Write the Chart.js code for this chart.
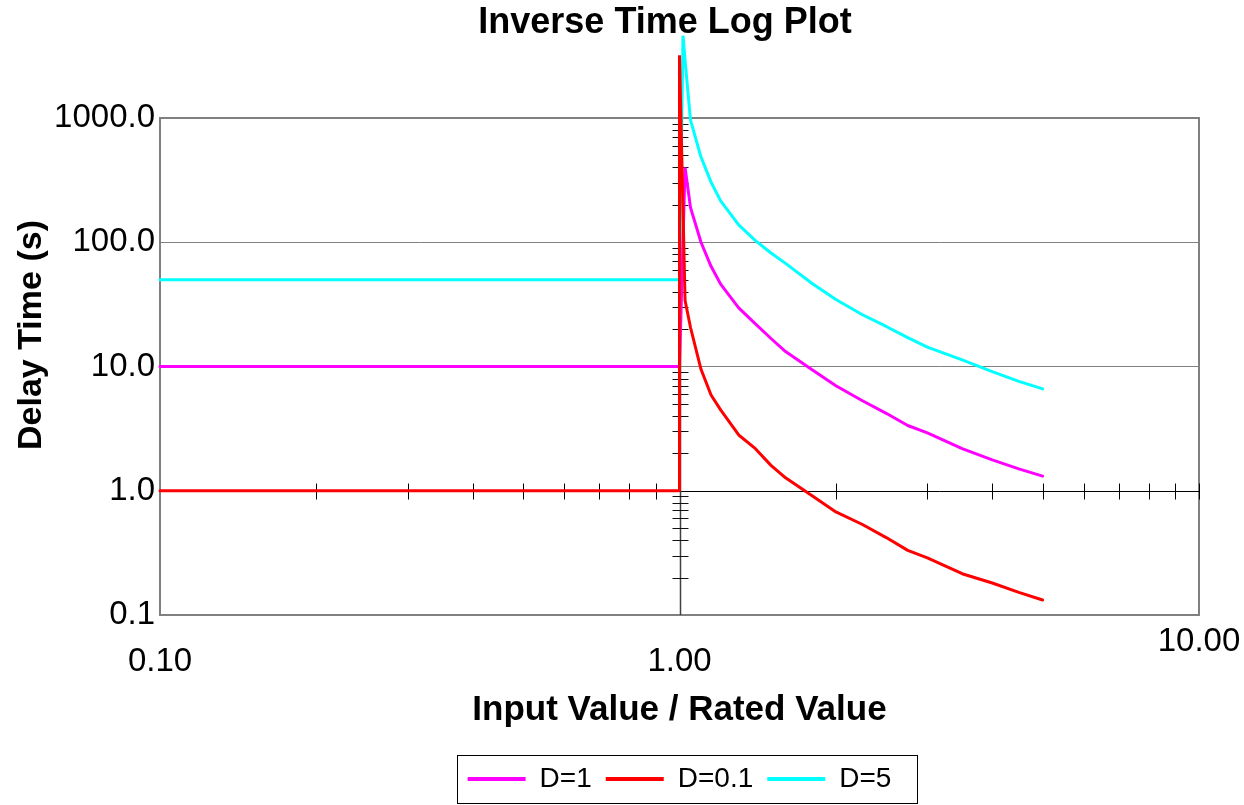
<!DOCTYPE html>
<html>
<head>
<meta charset="utf-8">
<title>Inverse Time Log Plot</title>
<script src="https://cdn.jsdelivr.net/npm/chart.js@4.4.1/dist/chart.umd.min.js"></script>
<style>
  body { margin: 0; background: #fff; }
  canvas { display: block; }
</style>
</head>
<body>
<canvas id="curveChart" width="1244" height="805"></canvas>
<script>
// input / rated value where the curves are sampled after pickup
const xCurve = [1.025, 1.05, 1.1, 1.15, 1.2, 1.3, 1.4, 1.5, 1.6, 1.8, 2.0, 2.25, 2.5, 2.75, 3.0, 3.5, 4.0, 4.5, 5.0];
const xFlat = [0.1, 1.0];

// delay time below pickup (flat level) for each curve
const levelD1 = 10;
const levelD01 = 1;
const levelD5 = 50;

// first point right at pickup (x, y)
const peakD01 = [1.0, 3200];
const peakD5 = [1.0156, 4600];

// delay times (s) along xCurve
const timeD1 = [400, 190, 100, 64, 46, 29.6, 22, 16.8, 13.2, 9.4, 7.0, 5.3, 4.2, 3.35, 2.92, 2.18, 1.77, 1.5, 1.31];
const timeD01 = [34, 20.6, 9.5, 5.9, 4.48, 2.81, 2.18, 1.6, 1.27, 0.91, 0.675, 0.535, 0.42, 0.331, 0.288, 0.215, 0.181, 0.152, 0.132];
const timeD5 = [2900, 960, 485, 305, 215, 138, 103, 82, 67.6, 46.6, 34.6, 26.1, 21.0, 17.1, 14.3, 11.3, 9.1, 7.6, 6.6];

const seriesLabels = ['D=1', 'D=0.1', 'D=5'];
const seriesColors = ['#ff00ff', '#ff0000', '#00ffff'];

const xTicks = [0.1, 1, 10];
const yTicks = [0.1, 1, 10, 100, 1000];

const FONT = '"Liberation Sans", Arial, Helvetica, sans-serif';

// minor tick positions for the axes that cross at (1, 1)
function minorTicks(fromExp, toExp) {
  const out = [];
  for (let e = fromExp; e < toExp; e++) {
    for (let m = 2; m <= 9; m++) out.push(m * Math.pow(10, e));
  }
  return out;
}
const minorX = minorTicks(-1, 1).concat([10]);
const minorY = minorTicks(-1, 3);

function buildPoints(level, peak, times) {
  const pts = xFlat.map(x => ({ x: x, y: level }));
  if (peak) pts.push({ x: peak[0], y: peak[1] });
  xCurve.forEach((x, i) => pts.push({ x: x, y: times[i] }));
  return pts;
}

const crossAxes = {
  id: 'crossAxes',
  beforeDatasetsDraw(chart) {
    const { ctx, chartArea: a, scales: { x, y } } = chart;
    const x1 = Math.round(x.getPixelForValue(1)) + 0.5;
    const y1 = Math.round(y.getPixelForValue(1)) + 0.5;
    ctx.save();

    // plot frame
    ctx.strokeStyle = '#808080';
    ctx.lineWidth = 2;
    ctx.strokeRect(a.left, a.top, a.right - a.left, a.bottom - a.top);

    // horizontal axis through y = 1
    ctx.strokeStyle = '#000';
    ctx.lineWidth = 1;
    ctx.beginPath();
    ctx.moveTo(a.left, y1);
    ctx.lineTo(a.right, y1);
    minorX.forEach(v => {
      const px = Math.round(x.getPixelForValue(v)) + 0.5;
      ctx.moveTo(px, y1 - 8);
      ctx.lineTo(px, y1 + 8);
    });
    ctx.stroke();

    // vertical axis through x = 1
    ctx.strokeStyle = '#404040';
    ctx.lineWidth = 1.5;
    ctx.beginPath();
    ctx.moveTo(x1, a.top);
    ctx.lineTo(x1, a.bottom);
    ctx.stroke();
    ctx.strokeStyle = '#111';
    ctx.lineWidth = 1;
    ctx.beginPath();
    minorY.forEach(v => {
      const py = Math.round(y.getPixelForValue(v)) + 0.5;
      ctx.moveTo(x1 - 8, py);
      ctx.lineTo(x1 + 8, py);
    });
    ctx.stroke();

    // chart title and y axis title
    ctx.fillStyle = '#000';
    ctx.textAlign = 'center';
    ctx.textBaseline = 'middle';
    ctx.font = 'bold 36px ' + FONT;
    ctx.fillText('Inverse Time Log Plot', 665, 23);
    ctx.translate(32, 335);
    ctx.rotate(-Math.PI / 2);
    ctx.font = 'bold 34px ' + FONT;
    ctx.fillText('Delay Time (s)', 0, 0);
    ctx.restore();
  }
};

const legendFrame = {
  id: 'legendFrame',
  afterDraw(chart) {
    const boxes = chart.legend.legendHitBoxes;
    if (!boxes.length) return;
    const first = boxes[0];
    const last = boxes[boxes.length - 1];
    const ctx = chart.ctx;
    ctx.save();
    ctx.strokeStyle = '#000';
    ctx.lineWidth = 1;
    const left = Math.round(first.left - 11) + 0.5;
    const right = Math.round(last.left + last.width + 26) + 0.5;
    const top = Math.round(first.top - 10) + 0.5;
    const bottom = Math.round(first.top + first.height + 10) + 0.5;
    ctx.strokeRect(left, top, right - left, bottom - top);
    ctx.restore();
  }
};

const datasets = [
  { label: seriesLabels[0], data: buildPoints(levelD1, null, timeD1), borderColor: seriesColors[0], order: 1 },
  { label: seriesLabels[1], data: buildPoints(levelD01, peakD01, timeD01), borderColor: seriesColors[1], order: 0 },
  { label: seriesLabels[2], data: buildPoints(levelD5, peakD5, timeD5), borderColor: seriesColors[2], order: 2 }
].map(ds => Object.assign(ds, {
  backgroundColor: ds.borderColor,
  showLine: true,
  borderWidth: 3,
  pointRadius: 0,
  pointHoverRadius: 0,
  tension: 0,
  fill: false,
  clip: false,
  borderJoinStyle: 'bevel',
  borderCapStyle: 'round'
}));

new Chart(document.getElementById('curveChart'), {
  type: 'scatter',
  data: { datasets: datasets },
  plugins: [crossAxes, legendFrame],
  options: {
    responsive: false,
    animation: false,
    devicePixelRatio: 1,
    layout: { padding: { top: 118, right: 45, bottom: 2, left: 0 } },
    plugins: {
      title: { display: false },
      tooltip: { enabled: false },
      legend: {
        position: 'bottom',
        fullSize: false,
        labels: {
          color: '#000',
          font: { family: FONT, size: 28 },
          boxWidth: 58,
          boxHeight: 4,
          padding: 14,
          generateLabels: chart => chart.data.datasets.map((ds, i) => ({
            text: ds.label,
            fillStyle: ds.borderColor,
            strokeStyle: ds.borderColor,
            lineWidth: 0,
            fontColor: '#000',
            hidden: false,
            datasetIndex: i
          }))
        }
      }
    },
    scales: {
      x: {
        type: 'logarithmic',
        position: 'bottom',
        min: 0.1,
        max: 10,
        afterBuildTicks: s => { s.ticks = xTicks.map(v => ({ value: v })); },
        afterFit: s => {
          s.height = 136;
          s.paddingLeft = 0;
          s.paddingRight = 0;
        },
        grid: { display: false, drawTicks: false },
        border: { display: false },
        ticks: {
          color: '#000',
          padding: 17,
          maxRotation: 0,
          autoSkip: false,
          font: { family: FONT, size: 33, lineHeight: 0.6 },
          callback: v => {
            const s = Number(v).toFixed(2);
            return v === 10 ? [s, ''] : ['', s];
          }
        },
        title: {
          display: true,
          text: 'Input Value / Rated Value',
          color: '#000',
          font: { family: FONT, size: 35, weight: 'bold', lineHeight: 1.2 },
          padding: { top: 0, bottom: 20 }
        }
      },
      y: {
        type: 'logarithmic',
        position: 'left',
        min: 0.1,
        max: 1000,
        afterBuildTicks: s => { s.ticks = yTicks.map(v => ({ value: v })); },
        afterFit: s => {
          s.width = 160;
          s.paddingTop = 0;
          s.paddingBottom = 0;
        },
        grid: {
          drawTicks: false,
          lineWidth: 1,
          color: c => (c.tick && c.tick.value >= 10 ? '#808080' : 'rgba(0,0,0,0)')
        },
        border: { display: false },
        ticks: {
          color: '#000',
          padding: 5,
          autoSkip: false,
          font: { family: FONT, size: 33 },
          callback: v => Number(v).toFixed(1)
        }
      }
    }
  }
});
</script>
</body>
</html>
